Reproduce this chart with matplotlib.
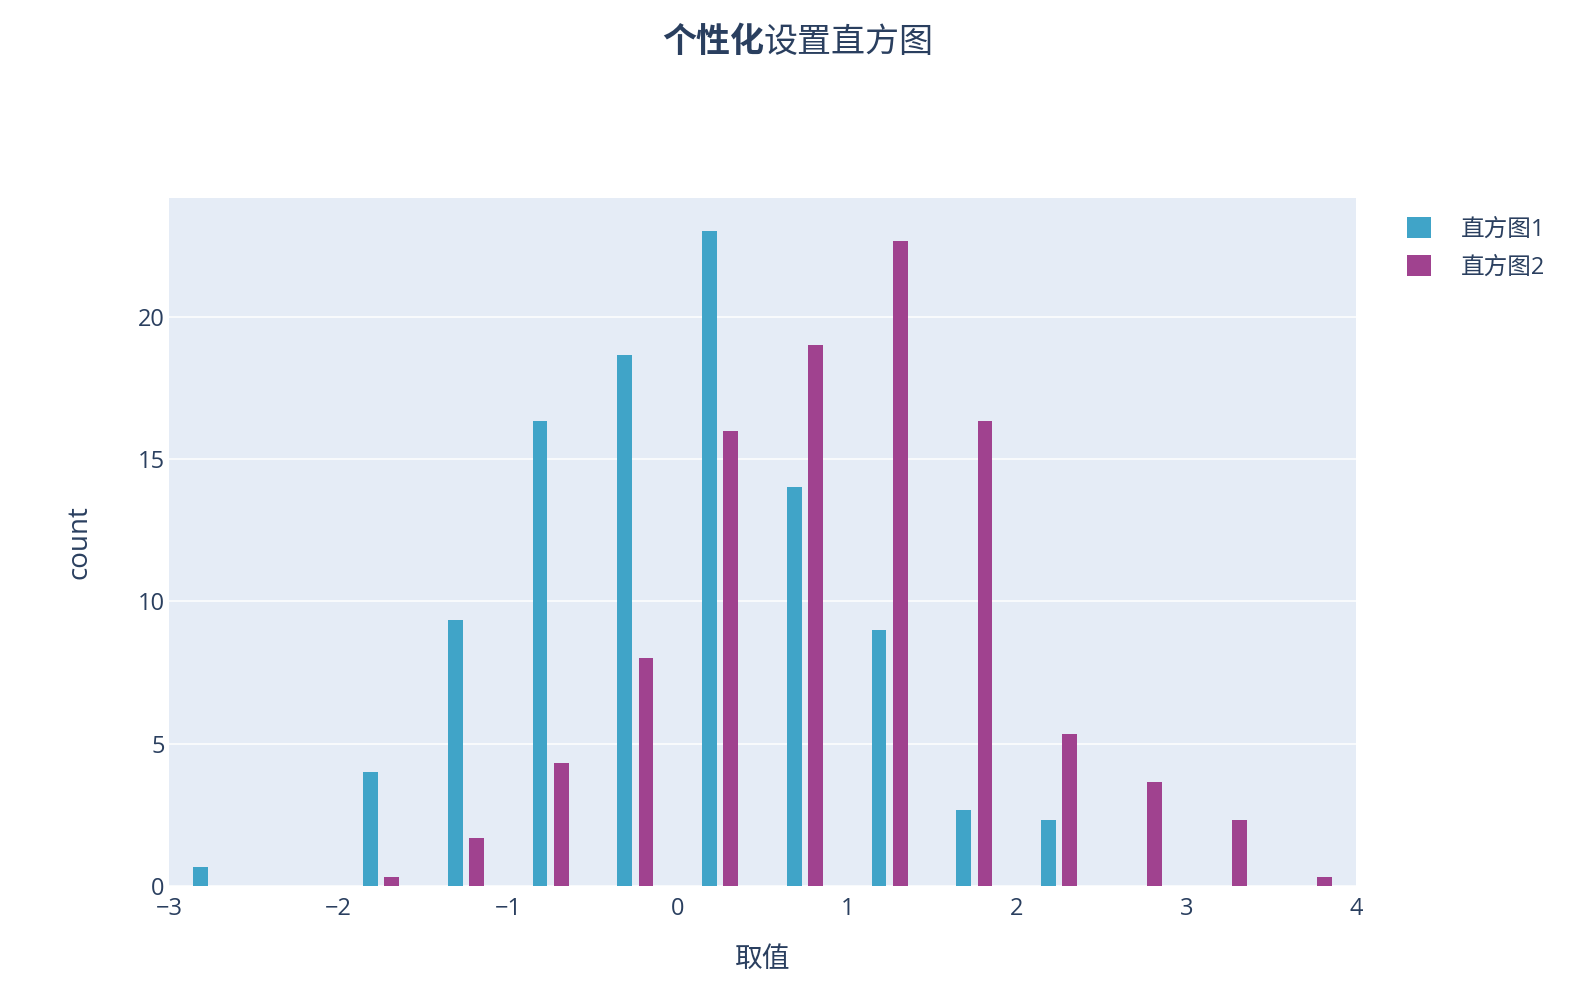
import numpy as np
import matplotlib
matplotlib.use("Agg")
import matplotlib.pyplot as plt

plt.rcParams['font.family'] = ['Open Sans', 'Noto Sans CJK SC', 'DejaVu Sans']
plt.rcParams['axes.unicode_minus'] = True

# Histogram data (bins of width 0.5 from -3 to 4)
bin_edges = [-3.0, -2.5, -2.0, -1.5, -1.0, -0.5, 0.0, 0.5, 1.0, 1.5, 2.0, 2.5, 3.0, 3.5, 4.0]
hist1 = [0.67, 0, 4.0, 9.33, 16.33, 18.67, 23.0, 14.0, 9.0, 2.67, 2.33, 0, 0, 0]
hist2 = [0, 0, 0.33, 1.67, 4.33, 8.0, 16.0, 19.0, 22.67, 16.33, 5.33, 3.67, 2.33, 0.33]
labels = ["直方图1", "直方图2"]
x_ticks = [-3, -2, -1, 0, 1, 2, 3, 4]
y_ticks = [0, 5, 10, 15, 20]

text_color = "#2a3f5f"
colors = ["#40A4C8", "#A0428F"]

W, H = 1590, 998
fig = plt.figure(figsize=(W / 100, H / 100), dpi=100)
ax = fig.add_axes([169 / W, 1 - 886 / H, (1356 - 169) / W, (886 - 198) / H])
ax.set_facecolor("#E5ECF6")

edges = np.array(bin_edges)
centers = (edges[:-1] + edges[1:]) / 2
slot = 0.125
bar_w = 0.0875

b1 = ax.bar(centers - slot / 2, hist1, width=bar_w, color=colors[0], label=labels[0], zorder=3)
b2 = ax.bar(centers + slot / 2, hist2, width=bar_w, color=colors[1], label=labels[1], zorder=3)

ax.set_xlim(-3, 4)
ax.set_ylim(0, 24.17)
ax.set_xticks(x_ticks)
ax.set_yticks(y_ticks)
ax.grid(axis="y", color="white", linewidth=1.1, zorder=1)
ax.set_axisbelow(True)
for s in ax.spines.values():
    s.set_visible(False)
ax.tick_params(axis="both", length=0, labelsize=17, labelcolor=text_color)
ax.tick_params(axis="x", pad=8)
ax.tick_params(axis="y", pad=3)

# Title: first part bold
fig.text(764 / W, 1 - 43 / H, "个性化", ha="right", va="center", fontsize=24.5,
         fontweight="bold", color=text_color)
fig.text(764 / W, 1 - 43 / H, "设置直方图", ha="left", va="center", fontsize=24.5,
         color=text_color)

fig.text(79 / W, 1 - 542 / H, "count", rotation=90, ha="center", va="center",
         fontsize=20, color=text_color)
fig.text(763 / W, 1 - 960 / H, "取值", ha="center", va="center",
         fontsize=20, color=text_color)

leg = fig.legend(handles=[b1, b2], labels=labels, loc="upper left",
                 bbox_to_anchor=(1407 / W, 1 - 217 / H), frameon=False,
                 fontsize=17, handlelength=1.0, handleheight=1.0,
                 handletextpad=1.3, labelspacing=0.55, borderpad=0, borderaxespad=0)
for t in leg.get_texts():
    t.set_color(text_color)

fig.savefig("out.png", dpi=100)
